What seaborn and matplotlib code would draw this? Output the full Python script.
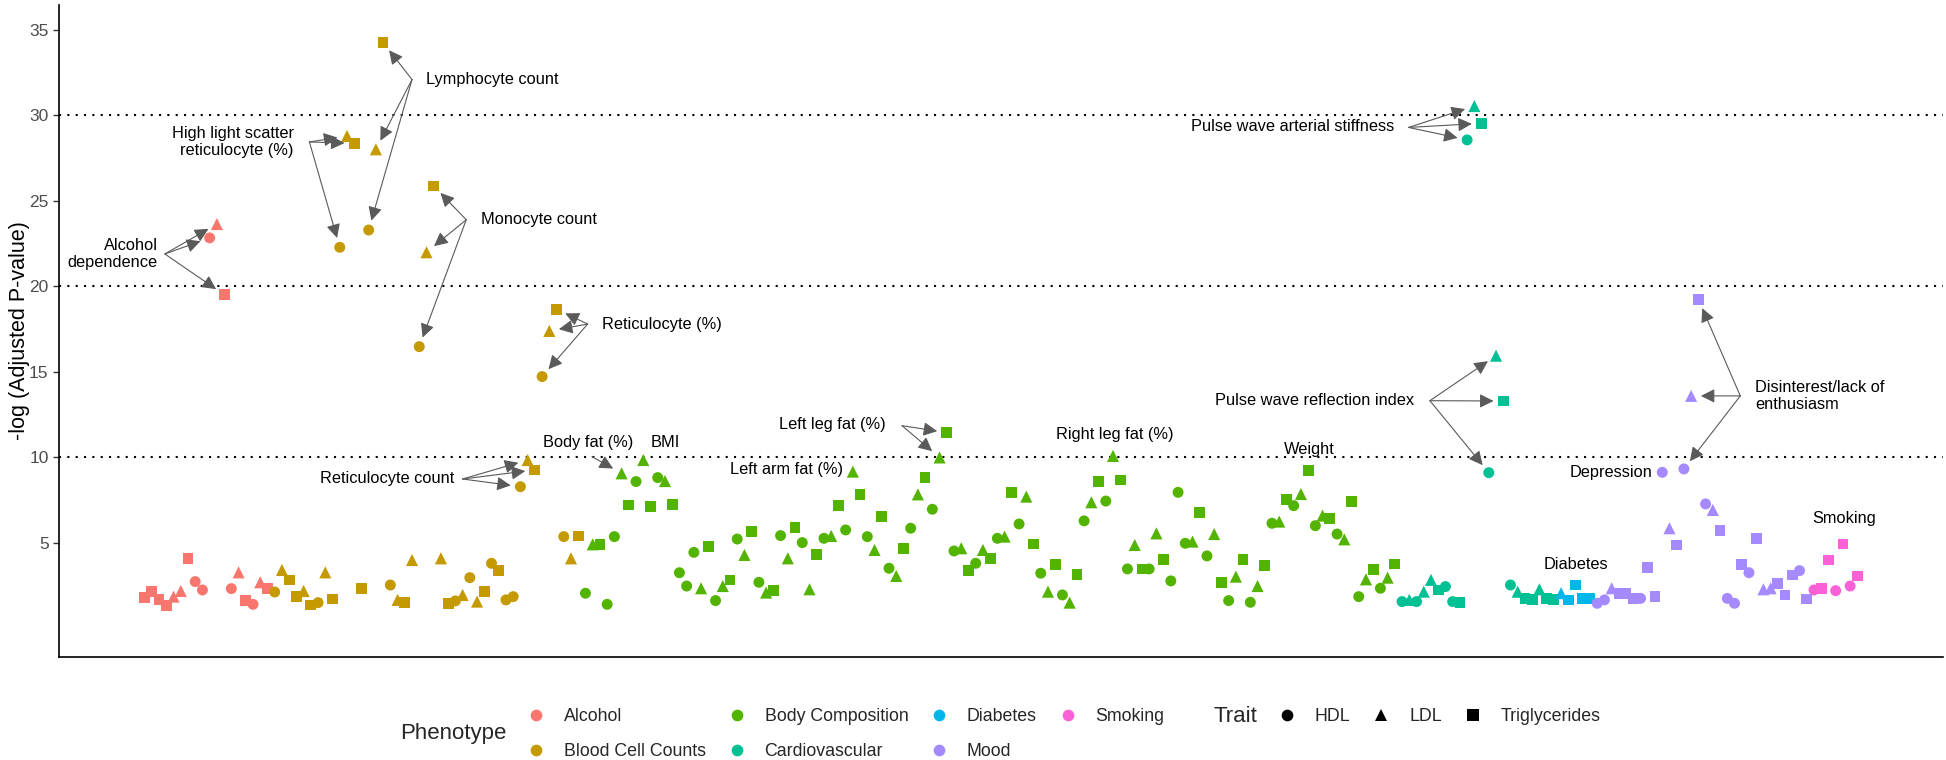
import matplotlib
matplotlib.use("Agg")

import numpy as np
import pandas as pd
import matplotlib.pyplot as plt
from matplotlib.lines import Line2D
import seaborn as sns

# ── Style ─────────────────────────────────────────────────────────────────────
sns.set_style("ticks")
plt.rcParams["font.family"] = ["Liberation Sans", "DejaVu Sans"]

# ── Data ──────────────────────────────────────────────────────────────────────
phenotypes = ["Alcohol", "Blood Cell Counts", "Body Composition",
              "Cardiovascular", "Diabetes", "Mood", "Smoking"]
colors = ["#F8766D", "#C49A00", "#53B400", "#00C094", "#00B6EB", "#A58AFF", "#FB61D7"]
trait_codes = {"H": "HDL", "L": "LDL", "T": "Triglycerides"}
trait_markers = {"HDL": "o", "LDL": "^", "Triglycerides": "s"}
trait_sizes = {"HDL": 62, "LDL": 76, "Triglycerides": 60}

alcohol_traits = "TTTTLLTHHHLTHLTHLT"
alcohol_vals = [1.82, 2.17, 1.71, 1.35, 1.86, 2.19, 4.10, 2.74, 2.25,
                22.84, 23.65, 19.52, 2.33, 3.28, 1.65, 1.41, 2.70, 2.33]

blood_traits = "HLTTLTHLT" "HLT" "T" "HLT" "HLTL" "HLT" "LTHLHLTHTHH" "HLTHLT" "HLT"
blood_vals = [2.13, 3.42, 2.84, 1.86, 2.19, 1.37, 1.51, 3.28, 1.72,
              22.29, 28.80, 28.37, 2.35, 23.30, 28.02, 34.26,
              2.54, 1.67, 1.51, 4.00, 16.48, 22.00, 25.88,
              4.10, 1.47, 1.61, 1.96, 2.97, 1.57, 2.15, 3.81, 3.38, 1.67, 1.86,
              8.29, 9.85, 9.27, 14.73, 17.40, 18.67, 5.37, 4.10, 5.41]

body_traits = ("HLTHH" "LTHLTHLT" "HHH"
               "LTHLTHLTHLTHLTHLTHLTHLTHLTHLTHLTHLTHLTHLTHLTHLTHLTHLTHLTHLTHLTHLT"
               "HHH" "LTHLTHLTHLTHLTHLTHLTHLTHLTHLT")
body_vals = [2.06, 4.92, 4.92, 1.41, 5.37, 9.07, 7.22, 8.59, 9.85, 7.12,
             8.82, 8.62, 7.26, 3.26, 2.48, 4.45, 2.35, 4.78, 1.63, 2.48,
             2.84, 5.23, 4.30, 5.66, 2.70, 2.10, 2.21, 5.43, 4.10, 5.92,
             5.02, 2.29, 4.32, 5.27, 5.41, 7.18, 5.76, 9.17, 7.84, 5.37,
             4.59, 6.54, 3.52, 3.07, 4.69, 5.86, 7.84, 8.84, 6.97, 10.00,
             11.45, 4.53, 4.69, 3.38, 3.81, 4.59, 4.10, 5.27, 5.37, 7.94,
             6.11, 7.71, 4.94, 3.23, 2.15, 3.75, 1.96, 1.51, 3.17, 6.29,
             7.38, 8.59, 7.45, 10.09, 8.68, 3.48, 4.88, 3.48, 3.48, 5.56,
             4.04, 2.78, 7.96, 4.98, 5.08, 6.77, 4.24, 5.52, 2.70, 1.63,
             3.03, 4.04, 1.53, 2.48, 3.67, 6.15, 6.25, 7.55, 7.18, 7.86,
             9.23, 6.01, 6.60, 6.44, 5.52, 5.21, 7.41, 1.86, 2.87, 3.46,
             2.35, 2.97, 3.77]

cardio_traits = "HLHLLTHHT" "HLT" "HLT" "HLTTLTT"
cardio_vals = [1.57, 1.67, 1.57, 2.15, 2.84, 2.25, 2.45, 1.57, 1.51,
               28.57, 30.55, 29.54, 9.11, 15.95, 13.30,
               2.54, 2.15, 1.76, 1.71, 2.29, 1.76, 1.71]

diabetes_traits = "LTTTT"
diabetes_vals = [2.06, 1.67, 2.54, 1.76, 1.76]

mood_traits = "HHLTTTHTT" "HLTHLT" "HLT" "HHTHTLLTTTHT"
mood_vals = [1.47, 1.67, 2.35, 2.06, 2.06, 1.76, 1.76, 3.56, 1.86,
             9.13, 5.86, 4.88, 9.33, 13.60, 19.25, 7.28, 6.93, 5.72,
             1.76, 1.47, 3.75, 3.26, 5.27, 2.29, 2.35, 2.64, 1.96, 3.13, 3.38, 1.72]

smoking_traits = "HTTHTHT"
smoking_vals = [2.25, 2.35, 4.00, 2.21, 4.94, 2.48, 3.07]

groups = [
    ("Alcohol", alcohol_traits, alcohol_vals),
    ("Blood Cell Counts", blood_traits, blood_vals),
    ("Body Composition", body_traits, body_vals),
    ("Cardiovascular", cardio_traits, cardio_vals),
    ("Diabetes", diabetes_traits, diabetes_vals),
    ("Mood", mood_traits, mood_vals),
    ("Smoking", smoking_traits, smoking_vals),
]

rows = []
for name, traits, vals in groups:
    for code, v in zip(traits, vals):
        rows.append({"Phenotype": name, "Trait": trait_codes[code], "value": v})
df = pd.DataFrame(rows)
df["idx"] = np.arange(1, len(df) + 1)

# labels: text, text x, text y, ha, arrow origin (or None), target indices
labels = [
    ("Alcohol\ndependence", 2.8, 21.9, "right", (3.8, 21.9), [10, 11, 12]),
    ("High light scatter\nreticulocyte (%)", 21.6, 28.45, "right", (23.8, 28.45), [28, 29, 30]),
    ("Lymphocyte count", 40.0, 32.1, "left", (38.0, 32.1), [32, 33, 34]),
    ("Monocyte count", 47.5, 23.9, "left", (45.5, 23.9), [39, 40, 41]),
    ("Reticulocyte (%)", 64.3, 17.8, "left", (62.3, 17.8), [56, 57, 58]),
    ("Reticulocyte count", 43.8, 8.74, "right", (45.0, 8.74), [53, 54, 55]),
    ("Body fat (%)", 62.3, 10.85, "center", (62.9, 10.05), [67]),
    ("BMI", 73.0, 10.85, "center", None, []),
    ("Left leg fat (%)", 96.1, 11.94, "center", (105.8, 11.86), [111, 112]),
    ("Left arm fat (%)", 89.8, 9.27, "center", None, []),
    ("Right leg fat (%)", 135.3, 11.36, "center", None, []),
    ("Weight", 162.1, 10.48, "center", None, []),
    ("Pulse wave arterial stiffness", 173.9, 29.35, "right", (175.9, 29.3), [184, 185, 186]),
    ("Pulse wave reflection index", 176.6, 13.32, "right", (178.85, 13.32), [187, 188, 189]),
    ("Disinterest/lack of\nenthusiasm", 223.9, 13.6, "left", (221.8, 13.6), [214, 215, 216]),
    ("Depression", 203.85, 9.11, "center", None, []),
    ("Diabetes", 199.1, 3.75, "center", None, []),
    ("Smoking", 236.2, 6.44, "center", None, []),
]

W, H = 1946, 760
fig = plt.figure(figsize=(W / 100, H / 100), dpi=100)
ax = fig.add_axes([59 / W, 103 / H, 1884 / W, 652 / H])

for yline in [10, 20, 30]:
    ax.axhline(yline, color="black", lw=1.5, linestyle=(0, (1, 3)), zorder=1)

sns.scatterplot(data=df, x="idx", y="value", hue="Phenotype", style="Trait",
                size="Trait", sizes=trait_sizes,
                hue_order=phenotypes, palette=dict(zip(phenotypes, colors)),
                markers=trait_markers, linewidth=0, legend=False,
                ax=ax, zorder=3)

vals_by_idx = df.set_index("idx")["value"]
for text, tx, ty, ha, origin, targets in labels:
    ax.text(tx, ty, text, ha=ha, va="center", fontsize=11.8, color="black",
            multialignment=ha if ha != "center" else "center", zorder=4)
    for t in targets:
        ax.annotate("", xy=(t, vals_by_idx[t]), xytext=origin,
                    arrowprops=dict(arrowstyle="-|>,head_length=0.7,head_width=0.35",
                                    color="#5a5a5a", lw=0.8, shrinkA=0, shrinkB=7,
                                    mutation_scale=12), zorder=4)

n = len(df)
ax.set_xlim(1 - 0.05 * (n - 1), n + 0.05 * (n - 1))
ax.set_ylim(-1.67, 36.46)
ax.set_yticks([5, 10, 15, 20, 25, 30, 35])
ax.set_xticks([])
ax.set_xlabel("")
ax.set_ylabel("-log (Adjusted P-value)", fontsize=15.5, color="black")
ax.yaxis.set_label_coords(-0.0152, 0.5)
ax.tick_params(axis="y", labelsize=12.5, labelcolor="#4D4D4D", color="#333333",
               length=4, width=1)
for side in ["top", "right"]:
    ax.spines[side].set_visible(False)
for side in ["left", "bottom"]:
    ax.spines[side].set_linewidth(1.2)
    ax.spines[side].set_color("black")

# ── Legends ───────────────────────────────────────────────────────────────────
phen_handles = [Line2D([], [], marker="o", linestyle="", markersize=8.4,
                       markeredgewidth=0, color=c, label=p)
                for p, c in zip(phenotypes, colors)]
trait_handles = [Line2D([], [], marker=m, linestyle="", markersize=8.4,
                        markeredgewidth=0, color="black", label=t)
                 for t, m in trait_markers.items()]

leg_kw = dict(loc="upper left", frameon=False, fontsize=12.8, handlelength=1.0,
              handletextpad=1.07, columnspacing=1.23, labelspacing=1.0,
              borderpad=0, borderaxespad=0)
fig.legend(handles=phen_handles, ncol=4, bbox_to_anchor=(527.1 / W, 1 - 708 / H), **leg_kw)
fig.legend(handles=trait_handles, ncol=3, bbox_to_anchor=(1278.1 / W, 1 - 708 / H), **leg_kw)
fig.text(400 / W, 1 - 734 / H, "Phenotype", fontsize=16, ha="left", va="center")
fig.text(1214 / W, 1 - 716 / H, "Trait", fontsize=16, ha="left", va="center")

fig.savefig("out.png", dpi=100)
